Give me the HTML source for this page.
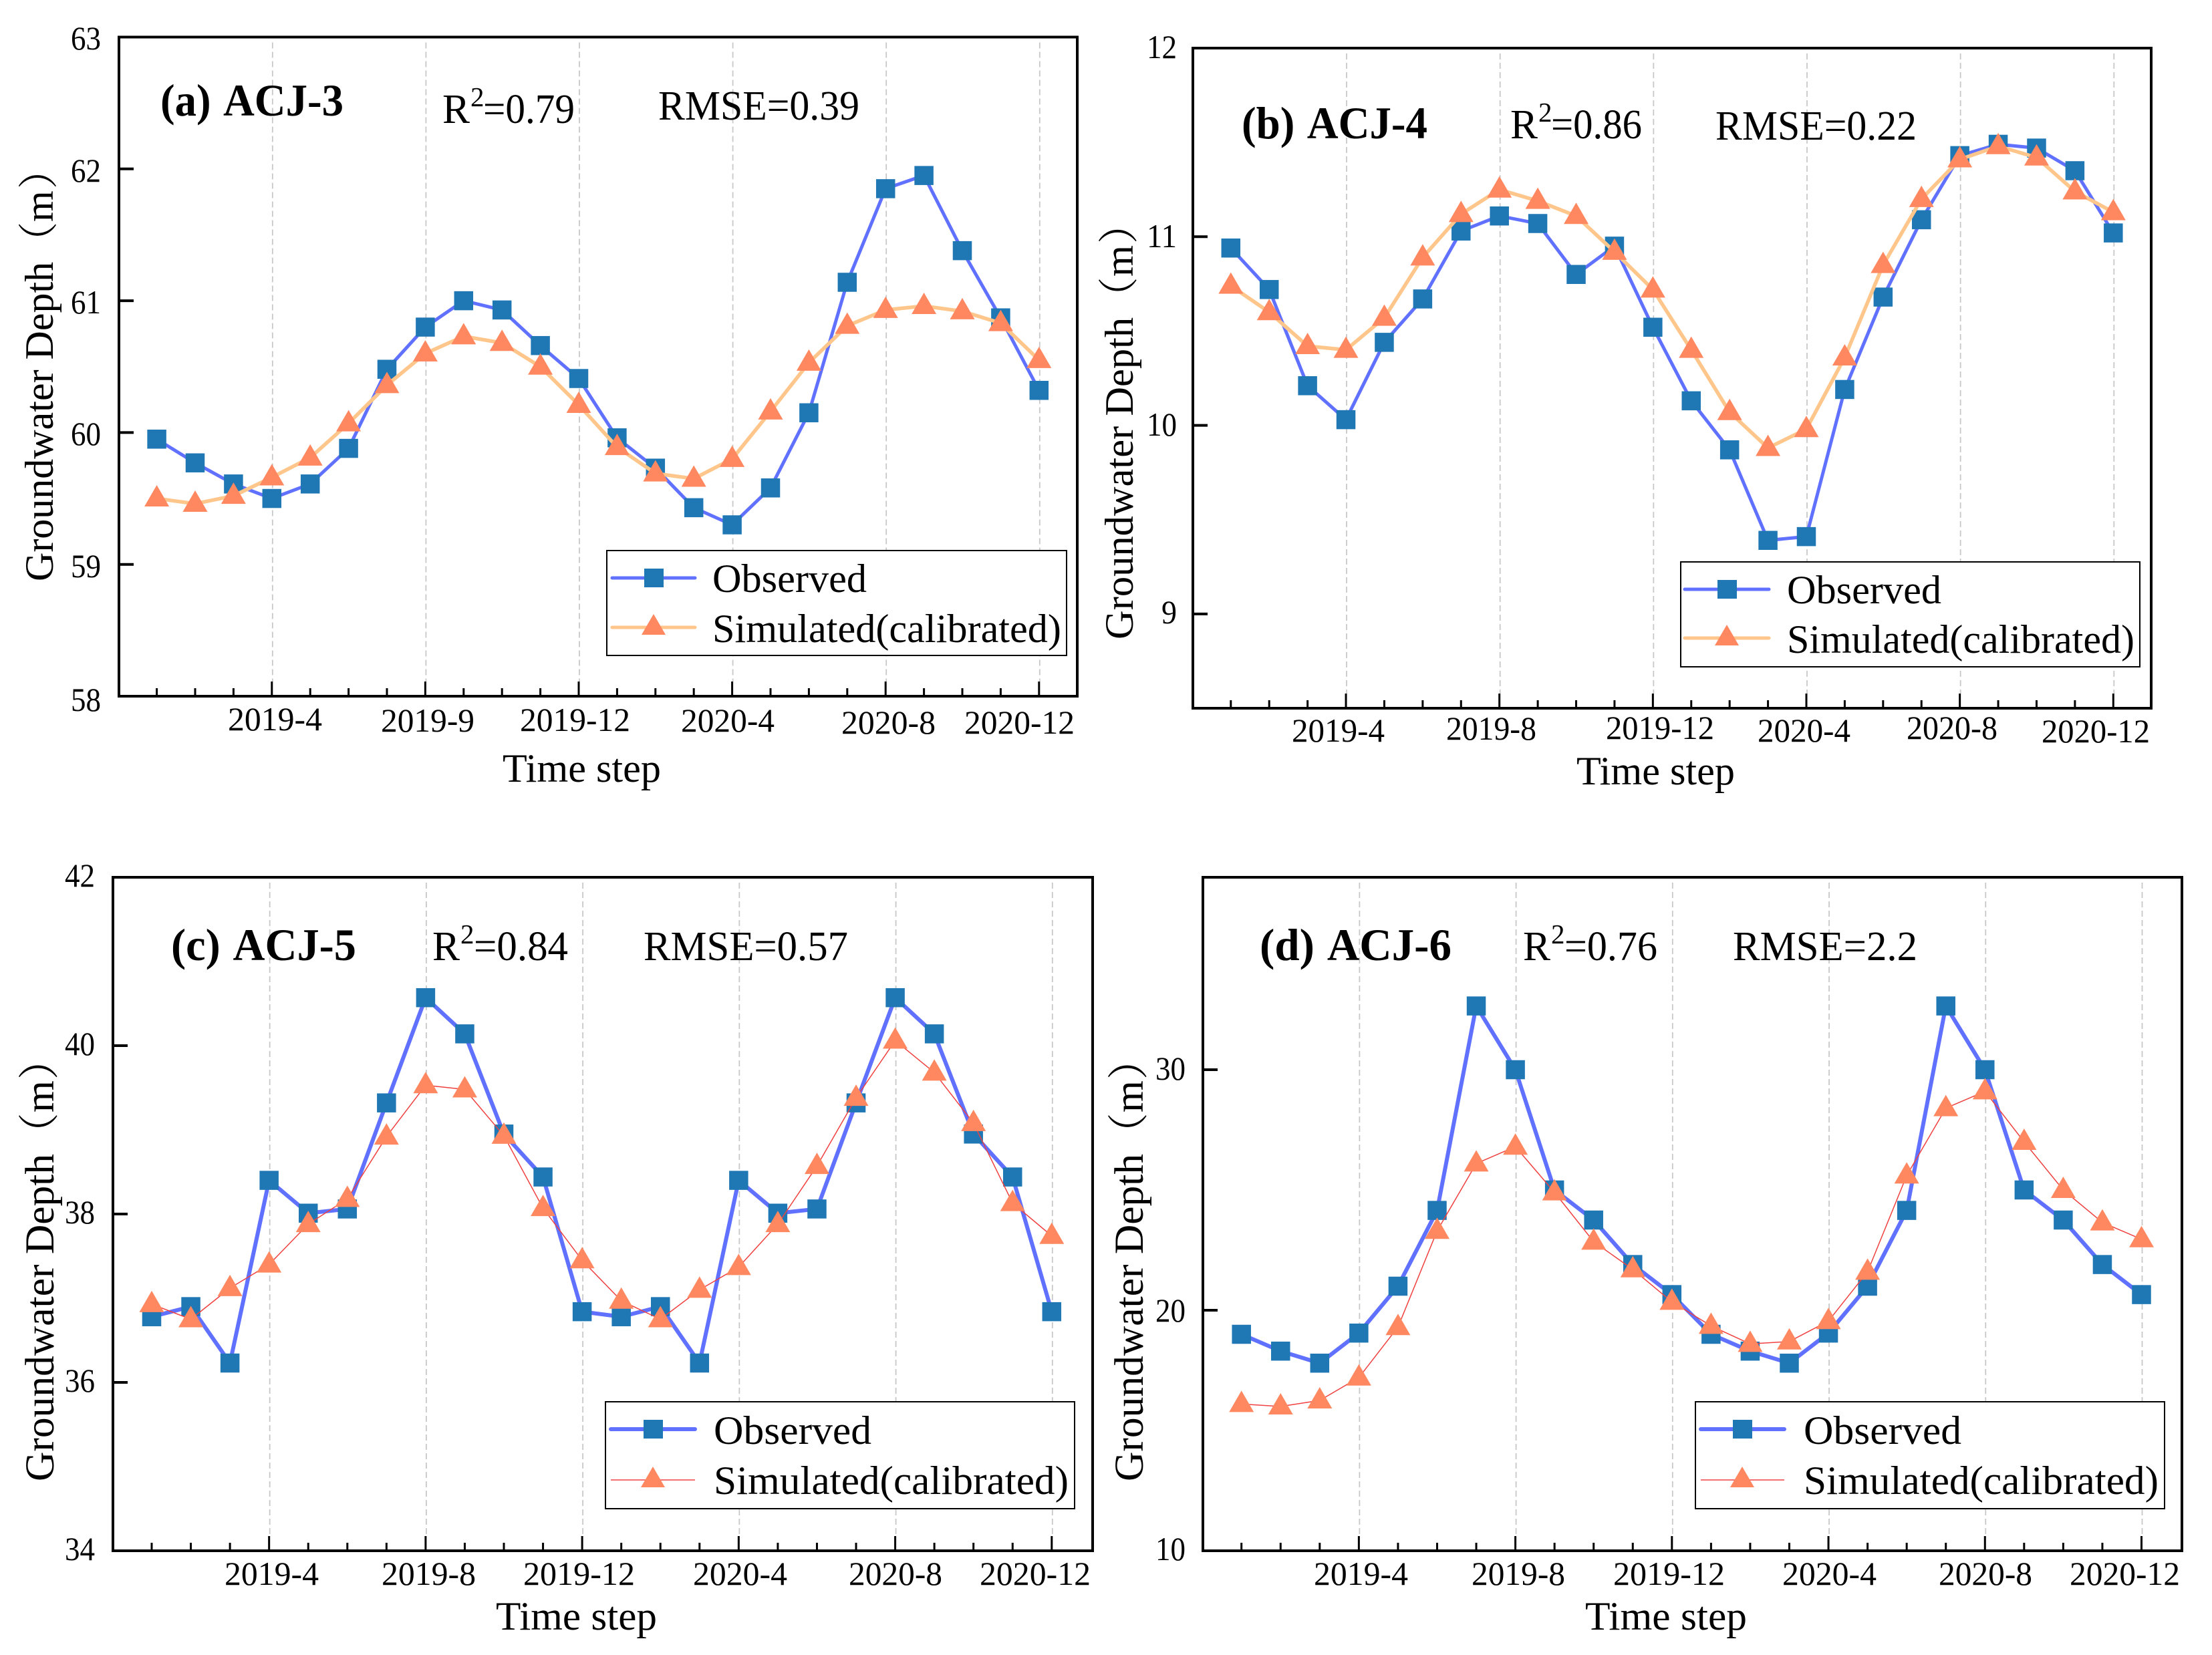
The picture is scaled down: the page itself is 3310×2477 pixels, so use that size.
<!DOCTYPE html>
<html lang="en">
<head>
<meta charset="utf-8">
<title>Groundwater depth: observed vs simulated</title>
<style>
html,body{margin:0;padding:0;background:#fff;}
svg{display:block;}
text{font-family:"Liberation Serif","Noto Serif CJK SC",serif;fill:#000;}
.tk{font-size:50px;}
.yt{font-size:50px;}
.ax{font-size:60px;}
.ax-b{font-size:60.5px;}
.ax-c{font-size:61.5px;}
.ttl{font-size:68px;font-weight:bold;word-spacing:6px;}
.st{font-size:62px;}
.sup{font-size:41px;}
.lg{font-size:60px;}
</style>
</head>
<body>
<svg id="figure" xmlns="http://www.w3.org/2000/svg" width="3310" height="2477" viewBox="0 0 3310 2477">
<rect x="0" y="0" width="3310" height="2477" fill="#ffffff"/>

<!-- Panel A -->
<g>
<g id="plot-a"></g>
<text class="yt" x="106" y="74" textLength="45" lengthAdjust="spacingAndGlyphs">63</text>
<text class="yt" x="106" y="272" textLength="45" lengthAdjust="spacingAndGlyphs">62</text>
<text class="yt" x="106" y="469" textLength="45" lengthAdjust="spacingAndGlyphs">61</text>
<text class="yt" x="106" y="666" textLength="45" lengthAdjust="spacingAndGlyphs">60</text>
<text class="yt" x="106" y="864" textLength="45" lengthAdjust="spacingAndGlyphs">59</text>
<text class="yt" x="106" y="1064" textLength="45" lengthAdjust="spacingAndGlyphs">58</text>
<text class="tk" x="341" y="1093" textLength="141" lengthAdjust="spacingAndGlyphs">2019-4</text>
<text class="tk" x="570" y="1095" textLength="140" lengthAdjust="spacingAndGlyphs">2019-9</text>
<text class="tk" x="778" y="1094" textLength="165" lengthAdjust="spacingAndGlyphs">2019-12</text>
<text class="tk" x="1019" y="1095" textLength="140" lengthAdjust="spacingAndGlyphs">2020-4</text>
<text class="tk" x="1259" y="1098" textLength="141" lengthAdjust="spacingAndGlyphs">2020-8</text>
<text class="tk" x="1443" y="1098" textLength="165" lengthAdjust="spacingAndGlyphs">2020-12</text>
<text class="ax" x="752" y="1170" textLength="237" lengthAdjust="spacingAndGlyphs">Time step</text>
<text class="ax" transform="translate(79 870) rotate(-90)">Groundwater Depth（<tspan x="538">m</tspan><tspan x="587">）</tspan></text>
<text class="ttl" x="240" y="173" textLength="274" lengthAdjust="spacingAndGlyphs">(a) ACJ-3</text>
<text class="st" x="662" y="184" textLength="41" lengthAdjust="spacingAndGlyphs">R</text>
<text class="sup" x="704" y="159">2</text>
<text class="st" x="723" y="184" textLength="137" lengthAdjust="spacingAndGlyphs">=0.79</text>
<text class="st" x="985" y="179" textLength="301" lengthAdjust="spacingAndGlyphs">RMSE=0.39</text>
<g>
<rect x="908" y="824" width="688" height="157" fill="#fff" stroke="#000" stroke-width="2"/>
<line x1="916" y1="865" x2="1040" y2="865" stroke="#6070FF" stroke-width="5" stroke-linecap="round"/>
<rect x="964" y="851" width="29" height="28" fill="#1F77B4"/>
<text class="lg" x="1066" y="886" textLength="231" lengthAdjust="spacingAndGlyphs">Observed</text>
<line x1="916" y1="939" x2="1040" y2="939" stroke="#FFC68C" stroke-width="5" stroke-linecap="round"/>
<polygon points="978,919 996,950 960,950" fill="#FF8860"/>
<text class="lg" x="1066" y="961" textLength="522" lengthAdjust="spacingAndGlyphs">Simulated(calibrated)</text>
</g>
</g>

<!-- Panel B -->
<g>
<g id="plot-b"></g>
<text class="yt" x="1716" y="87" textLength="45" lengthAdjust="spacingAndGlyphs">12</text>
<text class="yt" x="1716" y="370" textLength="45" lengthAdjust="spacingAndGlyphs">11</text>
<text class="yt" x="1716" y="652" textLength="45" lengthAdjust="spacingAndGlyphs">10</text>
<text class="yt" x="1738" y="933" textLength="23" lengthAdjust="spacingAndGlyphs">9</text>
<text class="tk" x="1933" y="1110" textLength="139" lengthAdjust="spacingAndGlyphs">2019-4</text>
<text class="tk" x="2164" y="1107" textLength="135" lengthAdjust="spacingAndGlyphs">2019-8</text>
<text class="tk" x="2403" y="1106" textLength="162" lengthAdjust="spacingAndGlyphs">2019-12</text>
<text class="tk" x="2630" y="1110" textLength="139" lengthAdjust="spacingAndGlyphs">2020-4</text>
<text class="tk" x="2853" y="1106" textLength="136" lengthAdjust="spacingAndGlyphs">2020-8</text>
<text class="tk" x="3055" y="1111" textLength="162" lengthAdjust="spacingAndGlyphs">2020-12</text>
<text class="ax" x="2359" y="1174" textLength="237" lengthAdjust="spacingAndGlyphs">Time step</text>
<text class="ax-b" transform="translate(1695 957) rotate(-90)">Groundwater Depth（<tspan x="543">m</tspan><tspan x="592">）</tspan></text>
<text class="ttl" x="1858" y="207" textLength="278" lengthAdjust="spacingAndGlyphs">(b) ACJ-4</text>
<text class="st" x="2260" y="207" textLength="41" lengthAdjust="spacingAndGlyphs">R</text>
<text class="sup" x="2302" y="182">2</text>
<text class="st" x="2321" y="207" textLength="136" lengthAdjust="spacingAndGlyphs">=0.86</text>
<text class="st" x="2567" y="209" textLength="301" lengthAdjust="spacingAndGlyphs">RMSE=0.22</text>
<g>
<rect x="2515" y="841" width="687" height="157" fill="#fff" stroke="#000" stroke-width="2"/>
<line x1="2521" y1="882" x2="2647" y2="882" stroke="#6070FF" stroke-width="5" stroke-linecap="round"/>
<rect x="2570" y="868" width="29" height="28" fill="#1F77B4"/>
<text class="lg" x="2674" y="903" textLength="231" lengthAdjust="spacingAndGlyphs">Observed</text>
<line x1="2521" y1="955" x2="2647" y2="955" stroke="#FFC68C" stroke-width="5" stroke-linecap="round"/>
<polygon points="2584,935 2602,966 2566,966" fill="#FF8860"/>
<text class="lg" x="2674" y="977" textLength="520" lengthAdjust="spacingAndGlyphs">Simulated(calibrated)</text>
</g>
</g>

<!-- Panel C -->
<g>
<g id="plot-c"></g>
<text class="yt" x="97" y="1327" textLength="45" lengthAdjust="spacingAndGlyphs">42</text>
<text class="yt" x="97" y="1579" textLength="45" lengthAdjust="spacingAndGlyphs">40</text>
<text class="yt" x="97" y="1831" textLength="45" lengthAdjust="spacingAndGlyphs">38</text>
<text class="yt" x="97" y="2083" textLength="45" lengthAdjust="spacingAndGlyphs">36</text>
<text class="yt" x="97" y="2335" textLength="45" lengthAdjust="spacingAndGlyphs">34</text>
<text class="tk" x="336" y="2372" textLength="141" lengthAdjust="spacingAndGlyphs">2019-4</text>
<text class="tk" x="571" y="2372" textLength="141" lengthAdjust="spacingAndGlyphs">2019-8</text>
<text class="tk" x="783" y="2372" textLength="167" lengthAdjust="spacingAndGlyphs">2019-12</text>
<text class="tk" x="1037" y="2372" textLength="141" lengthAdjust="spacingAndGlyphs">2020-4</text>
<text class="tk" x="1270" y="2372" textLength="140" lengthAdjust="spacingAndGlyphs">2020-8</text>
<text class="tk" x="1466" y="2372" textLength="166" lengthAdjust="spacingAndGlyphs">2020-12</text>
<text class="ax" x="742" y="2439" textLength="241" lengthAdjust="spacingAndGlyphs">Time step</text>
<text class="ax-c" transform="translate(80 2217) rotate(-90)">Groundwater Depth（<tspan x="552">m</tspan><tspan x="601">）</tspan></text>
<text class="ttl" x="256" y="1437" textLength="277" lengthAdjust="spacingAndGlyphs">(c) ACJ-5</text>
<text class="st" x="647" y="1437" textLength="41" lengthAdjust="spacingAndGlyphs">R</text>
<text class="sup" x="689" y="1412">2</text>
<text class="st" x="709" y="1437" textLength="141" lengthAdjust="spacingAndGlyphs">=0.84</text>
<text class="st" x="963" y="1437" textLength="306" lengthAdjust="spacingAndGlyphs">RMSE=0.57</text>
<g>
<rect x="906" y="2098" width="702" height="160" fill="#fff" stroke="#000" stroke-width="2"/>
<line x1="914" y1="2139" x2="1040" y2="2139" stroke="#6070FF" stroke-width="6" stroke-linecap="round"/>
<rect x="963" y="2125" width="29" height="28" fill="#1F77B4"/>
<text class="lg" x="1068" y="2161" textLength="236" lengthAdjust="spacingAndGlyphs">Observed</text>
<line x1="914" y1="2215" x2="1040" y2="2215" stroke="#F04040" stroke-width="1.5"/>
<polygon points="977,2195 995,2226 959,2226" fill="#FF8860"/>
<text class="lg" x="1068" y="2236" textLength="531" lengthAdjust="spacingAndGlyphs">Simulated(calibrated)</text>
</g>
</g>

<!-- Panel D -->
<g>
<g id="plot-d"></g>
<text class="yt" x="1729" y="1616" textLength="45" lengthAdjust="spacingAndGlyphs">30</text>
<text class="yt" x="1729" y="1978" textLength="45" lengthAdjust="spacingAndGlyphs">20</text>
<text class="yt" x="1729" y="2335" textLength="45" lengthAdjust="spacingAndGlyphs">10</text>
<text class="tk" x="1966" y="2372" textLength="141" lengthAdjust="spacingAndGlyphs">2019-4</text>
<text class="tk" x="2202" y="2372" textLength="140" lengthAdjust="spacingAndGlyphs">2019-8</text>
<text class="tk" x="2414" y="2372" textLength="167" lengthAdjust="spacingAndGlyphs">2019-12</text>
<text class="tk" x="2667" y="2372" textLength="141" lengthAdjust="spacingAndGlyphs">2020-4</text>
<text class="tk" x="2901" y="2372" textLength="140" lengthAdjust="spacingAndGlyphs">2020-8</text>
<text class="tk" x="3097" y="2372" textLength="165" lengthAdjust="spacingAndGlyphs">2020-12</text>
<text class="ax" x="2372" y="2439" textLength="242" lengthAdjust="spacingAndGlyphs">Time step</text>
<text class="ax-c" transform="translate(1710 2217) rotate(-90)">Groundwater Depth（<tspan x="552">m</tspan><tspan x="601">）</tspan></text>
<text class="ttl" x="1885" y="1437" textLength="287" lengthAdjust="spacingAndGlyphs">(d) ACJ-6</text>
<text class="st" x="2279" y="1437" textLength="41" lengthAdjust="spacingAndGlyphs">R</text>
<text class="sup" x="2321" y="1412">2</text>
<text class="st" x="2341" y="1437" textLength="139" lengthAdjust="spacingAndGlyphs">=0.76</text>
<text class="st" x="2593" y="1437" textLength="276" lengthAdjust="spacingAndGlyphs">RMSE=2.2</text>
<g>
<rect x="2537" y="2098" width="702" height="160" fill="#fff" stroke="#000" stroke-width="2"/>
<line x1="2545" y1="2139" x2="2670" y2="2139" stroke="#6070FF" stroke-width="6" stroke-linecap="round"/>
<rect x="2593" y="2125" width="29" height="28" fill="#1F77B4"/>
<text class="lg" x="2699" y="2161" textLength="236" lengthAdjust="spacingAndGlyphs">Observed</text>
<line x1="2545" y1="2215" x2="2670" y2="2215" stroke="#F04040" stroke-width="1.5"/>
<polygon points="2607,2195 2625,2226 2589,2226" fill="#FF8860"/>
<text class="lg" x="2699" y="2236" textLength="531" lengthAdjust="spacingAndGlyphs">Simulated(calibrated)</text>
</g>
</g>
</svg>

<script>
var months = ["2019-1","2019-2","2019-3","2019-4","2019-5","2019-6","2019-7","2019-8","2019-9","2019-10","2019-11","2019-12","2020-1","2020-2","2020-3","2020-4","2020-5","2020-6","2020-7","2020-8","2020-9","2020-10","2020-11","2020-12"];
var majorMonths = ["2019-4","2019-8","2019-12","2020-4","2020-8","2020-12"];

var observedA = [59.95,59.77,59.61,59.50,59.61,59.88,60.48,60.80,61.00,60.93,60.66,60.41,59.96,59.73,59.43,59.30,59.58,60.15,61.14,61.85,61.95,61.38,60.87,60.32];
var simulatedA = [59.50,59.46,59.52,59.66,59.81,60.07,60.36,60.60,60.73,60.68,60.50,60.21,59.89,59.69,59.65,59.80,60.16,60.53,60.81,60.93,60.96,60.92,60.83,60.55];
var yTicksA = [59,60,61,62];

var observedB = [10.94,10.72,10.21,10.03,10.44,10.67,11.03,11.11,11.07,10.80,10.95,10.52,10.13,9.87,9.39,9.41,10.19,10.68,11.09,11.43,11.49,11.47,11.35,11.02];
var simulatedB = [10.74,10.60,10.42,10.40,10.57,10.89,11.12,11.25,11.19,11.11,10.92,10.72,10.40,10.07,9.88,9.98,10.36,10.85,11.20,11.41,11.48,11.42,11.24,11.13];
var yTicksB = [9,10,11];

var observedC = [36.78,36.90,36.23,38.40,38.01,38.06,39.32,40.57,40.14,38.95,38.44,36.84,36.78,36.90,36.23,38.40,38.01,38.06,39.32,40.57,40.14,38.95,38.44,36.84];
var simulatedC = [36.93,36.75,37.12,37.40,37.88,38.18,38.92,39.53,39.48,38.93,38.07,37.45,36.97,36.75,37.10,37.37,37.88,38.57,39.38,40.06,39.68,39.08,38.13,37.74];
var yTicksC = [36,38,40];

var observedD = [19.0,18.3,17.8,19.05,21.0,24.15,32.65,30.0,25.0,23.75,21.9,20.65,19.0,18.3,17.8,19.05,21.0,24.15,32.65,30.0,25.0,23.75,21.9,20.65];
var simulatedD = [16.1,16.0,16.25,17.2,19.3,23.3,26.1,26.8,24.9,22.85,21.7,20.35,19.35,18.6,18.7,19.55,21.6,25.6,28.4,29.1,27.0,25.0,23.65,22.95];
var yTicksD = [20,30];

var SVG_NS = "http://www.w3.org/2000/svg";

function makeEl(tag, attrs, parent) {
  var el = document.createElementNS(SVG_NS, tag);
  for (var k in attrs) { el.setAttribute(k, attrs[k]); }
  parent.appendChild(el);
  return el;
}

function drawPanel(cfg) {
  var g = document.getElementById(cfg.id);
  var xAxis = function (i) {
    return cfg.xFirst + i * (cfg.xLast - cfg.xFirst) / (months.length - 1);
  };
  var yAxis = function (v) {
    return cfg.bottom - (v - cfg.yMin) * (cfg.bottom - cfg.top) / (cfg.yMax - cfg.yMin);
  };

  makeEl("rect", {x: cfg.left, y: cfg.top, width: cfg.right - cfg.left, height: cfg.bottom - cfg.top, fill: "#ffffff"}, g);

  months.forEach(function (m, i) {
    if (majorMonths.indexOf(m) < 0) { return; }
    var grid = makeEl("line", {x1: xAxis(i) + 1, x2: xAxis(i) + 1, y1: cfg.top + 8, y2: cfg.bottom - 22, stroke: "#c8c8c8", "stroke-width": 1.8, "stroke-dasharray": "9 5"}, g);
    
    
  });

  var obsPts = cfg.observed.map(function (v, i) { return xAxis(i) + "," + yAxis(v); }).join(" ");
  var obsLine = makeEl("polyline", {points: obsPts, fill: "none", stroke: "#6070FF", "stroke-width": cfg.obsWidth, "stroke-linejoin": "round"}, g);
  
  

  cfg.observed.forEach(function (v, i) {
    var sq = makeEl("rect", {x: xAxis(i) - 14.25, y: yAxis(v) - 14.25, width: 28.5, height: 28.5, fill: "#1F77B4"}, g);
    
    
  });

  var simPts = cfg.simulated.map(function (v, i) { return xAxis(i) + "," + yAxis(v); }).join(" ");
  var simLine = makeEl("polyline", {points: simPts, fill: "none", stroke: cfg.simColor, "stroke-width": cfg.simWidth, "stroke-linejoin": "round"}, g);
  
  

  cfg.simulated.forEach(function (v, i) {
    var cx = xAxis(i), cy = yAxis(v);
    var tri = makeEl("polygon", {points: cx + "," + (cy - 20) + " " + (cx + 18.5) + "," + (cy + 12) + " " + (cx - 18.5) + "," + (cy + 12), fill: "#FF8860"}, g);
    
    
  });

  months.forEach(function (m, i) {
    var major = majorMonths.indexOf(m) >= 0;
    var tick = makeEl("line", {x1: xAxis(i), x2: xAxis(i), y1: cfg.bottom, y2: cfg.bottom - (major ? 22 : 12), stroke: "#000", "stroke-width": 3}, g);
    
    
  });

  cfg.yTicks.forEach(function (v) {
    var tick = makeEl("line", {x1: cfg.left, x2: cfg.left + 22, y1: yAxis(v), y2: yAxis(v), stroke: "#000", "stroke-width": 4}, g);
    
    
  });

  var frame = makeEl("rect", {x: cfg.left, y: cfg.top, width: cfg.right - cfg.left, height: cfg.bottom - cfg.top, fill: "none", stroke: "#000", "stroke-width": 4}, g);
  
  
}

drawPanel({id: "plot-a", left: 178, right: 1612, top: 55.5, bottom: 1042, xFirst: 234.6, xLast: 1554.8, yMin: 58, yMax: 63, observed: observedA, simulated: simulatedA, yTicks: yTicksA, obsWidth: 5, simColor: "#FFC68C", simWidth: 5.5});
drawPanel({id: "plot-b", left: 1785, right: 3219, top: 72, bottom: 1060, xFirst: 1841.8, xLast: 3162.3, yMin: 8.5, yMax: 12, observed: observedB, simulated: simulatedB, yTicks: yTicksB, obsWidth: 5, simColor: "#FFC68C", simWidth: 5.5});
drawPanel({id: "plot-c", left: 169, right: 1635, top: 1313, bottom: 2321, xFirst: 227, xLast: 1573.8, yMin: 34, yMax: 42, observed: observedC, simulated: simulatedC, yTicks: yTicksC, obsWidth: 6, simColor: "#F04040", simWidth: 1.5});
drawPanel({id: "plot-d", left: 1800, right: 3265, top: 1313, bottom: 2321, xFirst: 1857.7, xLast: 3204.5, yMin: 10, yMax: 38, observed: observedD, simulated: simulatedD, yTicks: yTicksD, obsWidth: 6, simColor: "#F04040", simWidth: 1.5});
</script>
</body>
</html>
